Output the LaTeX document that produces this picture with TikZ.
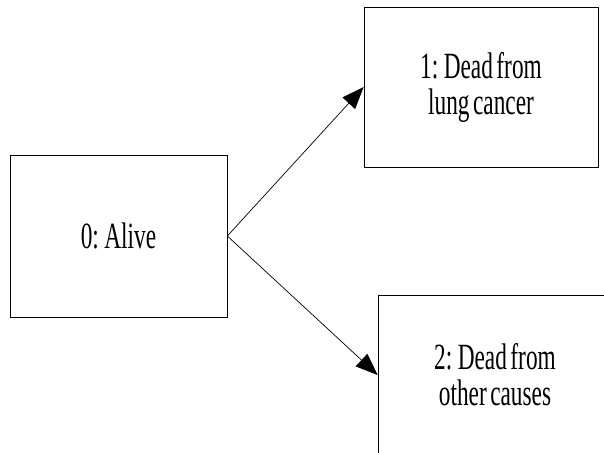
\documentclass[tikz,border=0pt]{standalone}
\usepackage{fontspec}
\setmainfont{Liberation Serif}
\newfontfamily\condfont[FakeStretch=0.63,WordSpace=0.6]{Liberation Serif}
\usetikzlibrary{arrows.meta}
\tikzset{
  statebox/.style={draw=black, line width=0.7pt, rectangle, inner sep=0pt,
    align=center, font=\condfont\fontsize{37}{36}\selectfont},
  trans/.style={draw=black, line width=0.7pt, -{Triangle[length=22pt,width=17pt]}}
}
\begin{document}
\begin{tikzpicture}[x=1pt,y=-1pt]
\useasboundingbox (0,0) rectangle (604,452);
\node[statebox, minimum width=217pt, minimum height=162pt] (a) at (118.5,236) {0: Alive};
\node[statebox, minimum width=234pt, minimum height=160pt] (b) at (481,87) {1: Dead from\\lung cancer};
\node[statebox, minimum width=234pt, minimum height=160pt] (c) at (495,375) {2: Dead from\\other causes};
\draw[trans] (a.east) -- (b.west);
\draw[trans] (a.east) -- (c.west);
\end{tikzpicture}
\end{document}
